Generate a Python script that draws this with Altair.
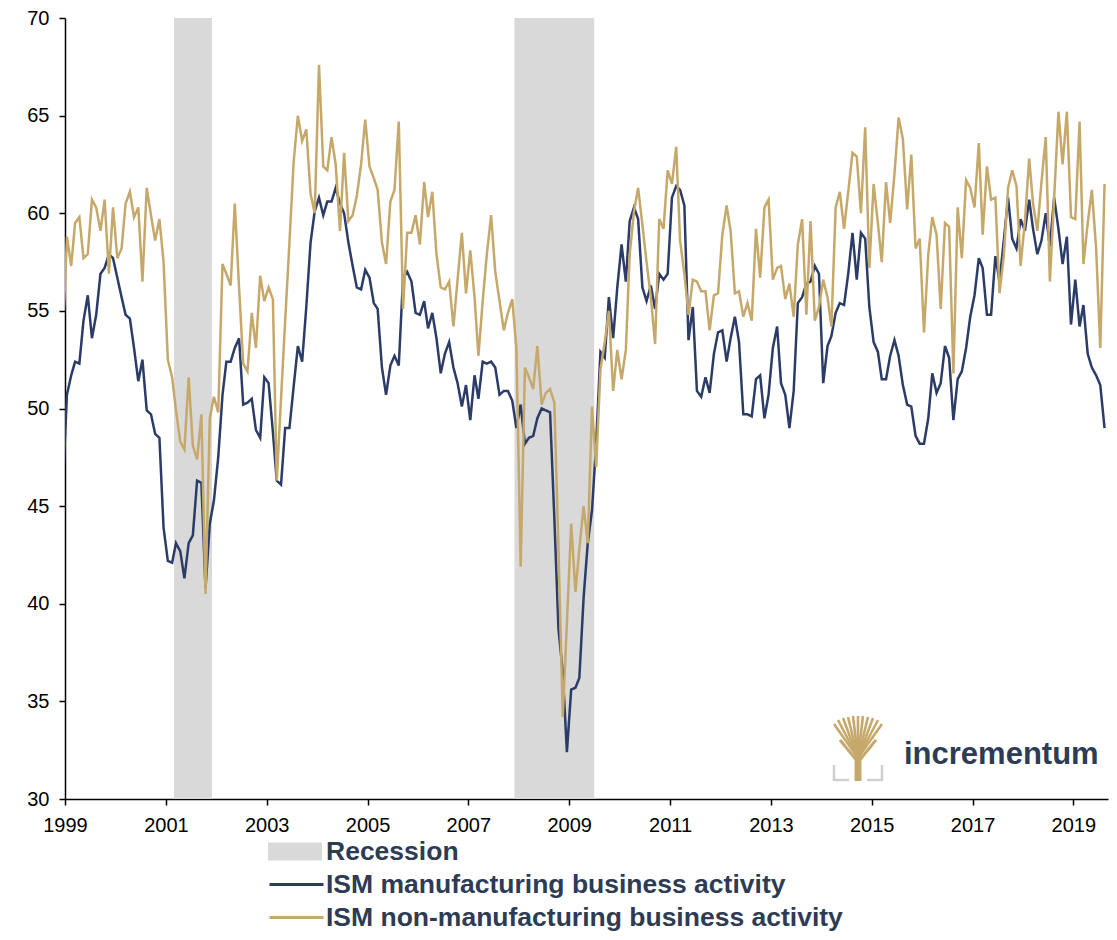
import altair as alt
import pandas as pd

# ---------------- data ----------------
SERIES = ["ISM manufacturing business activity",
          "ISM non-manufacturing business activity"]
FIRST_MONTH = "1998-12-01"

# monthly values, Dec 1998 ... Aug 2019
manufacturing = [
    45.8,
    50.7, 51.7, 52.4, 52.3, 54.5, 55.8, 53.6, 54.8, 56.9, 57.2, 57.9, 57.7,
    56.7, 55.7, 54.8, 54.6, 53.1, 51.4, 52.5, 49.9, 49.7, 48.7, 48.5, 43.9,
    42.2, 42.1, 43.1, 42.7, 41.3, 43.1, 43.5, 46.3, 46.2, 40.8, 44.1, 45.3,
    47.5, 50.7, 52.4, 52.4, 53.1, 53.6, 50.2, 50.3, 50.5, 48.9, 48.5, 51.6,
    51.3, 48.8, 46.3, 46.1, 49.0, 49.0, 51.1, 53.2, 52.4, 55.2, 58.5, 60.1,
    60.8, 59.9, 60.6, 60.6, 61.3, 60.5, 60.0, 58.5, 57.3, 56.2, 56.1, 57.1,
    56.7, 55.4, 55.1, 52.1, 50.7, 52.2, 52.7, 52.2, 56.7, 57.0, 56.5, 54.9,
    54.8, 55.5, 54.1, 54.9, 53.6, 51.8, 52.8, 53.4, 52.1, 51.3, 50.1, 51.2,
    49.4, 51.7, 50.5, 52.4, 52.3, 52.4, 52.1, 50.7, 50.9, 50.9, 50.4, 49.0,
    50.2, 48.2, 48.5, 48.6, 49.5, 50.0, 49.9, 49.8, 44.4, 38.7, 36.5, 32.4,
    35.6, 35.7, 36.2, 40.3, 43.1, 44.8, 48.2, 52.9, 52.6, 55.7, 53.6, 56.2,
    58.4, 56.5, 59.6, 60.3, 59.7, 56.2, 55.5, 56.3, 55.1, 56.9, 56.6, 56.9,
    60.8, 61.4, 61.2, 60.4, 53.5, 55.2, 50.9, 50.6, 51.6, 50.8, 52.8, 53.9,
    54.0, 52.4, 53.6, 54.7, 53.4, 49.7, 49.7, 49.6, 51.5, 51.7, 49.5, 50.7,
    53.1, 54.2, 51.3, 50.7, 49.0, 50.9, 55.4, 55.7, 56.4, 56.5, 57.3, 56.9,
    51.3, 53.2, 53.7, 54.9, 55.4, 55.3, 56.9, 59.0, 56.6, 59.0, 58.7, 55.2,
    53.4, 52.9, 51.5, 51.5, 52.7, 53.5, 52.7, 51.2, 50.2, 50.1, 48.6, 48.2,
    48.2, 49.5, 51.8, 50.8, 51.3, 53.2, 52.6, 49.4, 51.5, 51.9, 53.1, 54.7,
    55.8, 57.7, 57.2, 54.8, 54.8, 57.8, 56.5, 58.6, 60.8, 58.7, 58.2, 59.7,
    59.1, 60.7, 59.2, 57.9, 58.6, 60.0, 58.3, 60.8, 59.2, 57.4, 58.8, 54.3,
    56.6, 54.2, 55.3, 52.8, 52.1, 51.7, 51.2, 49.0,
]

non_manufacturing = [
    53.4,
    58.8, 57.3, 59.5, 59.8, 57.7, 57.9, 60.7, 60.3, 59.1, 60.7, 56.9, 60.3,
    57.7, 58.2, 60.5, 61.1, 59.8, 60.3, 56.5, 61.3, 59.9, 58.6, 59.7, 57.5,
    52.5, 51.6, 49.9, 48.3, 47.9, 51.6, 48.1, 47.4, 49.7, 40.5, 49.5, 50.6,
    49.8, 57.4, 56.9, 56.3, 60.5, 56.2, 52.3, 51.9, 54.9, 53.1, 56.8, 55.5,
    56.2, 55.6, 46.3, 50.5, 54.5, 58.5, 62.6, 65.0, 63.7, 64.3, 61.0, 60.0,
    67.6, 62.4, 62.2, 63.9, 62.5, 59.1, 63.1, 59.6, 59.9, 60.9, 62.5, 64.8,
    62.4, 61.8, 61.2, 58.5, 57.4, 60.6, 61.2, 64.7, 55.1, 59.0, 59.0, 59.9,
    58.4, 61.6, 59.8, 61.1, 57.9, 56.2, 56.1, 56.5, 54.2, 56.6, 59.0, 55.9,
    58.1, 55.7, 52.7, 55.5, 57.9, 59.9, 57.0, 55.5, 54.0, 54.9, 55.6, 53.1,
    41.9, 52.1, 51.6, 51.0, 53.2, 50.2, 50.8, 51.0, 50.3, 42.8, 34.2, 39.0,
    44.1, 40.6, 42.8, 45.0, 43.1, 50.1, 47.0, 52.0, 53.4, 55.0, 50.9, 53.0,
    51.5, 53.0, 57.9, 60.1, 61.3, 59.4, 57.5, 55.7, 53.3, 59.7, 59.2, 62.2,
    61.5, 63.4, 58.6, 56.9, 54.8, 56.6, 56.5, 56.0, 56.0, 54.0, 55.8, 55.9,
    58.9, 60.4, 59.1, 55.9, 56.0, 54.7, 55.4, 54.5, 59.2, 56.7, 60.3, 60.7,
    56.6, 57.2, 57.3, 55.6, 56.4, 54.7, 58.4, 59.7, 54.8, 59.6, 54.5, 55.2,
    56.6, 55.7, 54.2, 60.3, 61.1, 59.2, 61.1, 63.1, 62.9, 60.0, 64.4, 57.2,
    61.5, 59.5, 57.5, 61.6, 59.5, 62.0, 64.9, 63.8, 60.2, 63.0, 58.2, 58.7,
    53.9, 57.9, 59.8, 58.9, 55.1, 59.5, 59.3, 51.8, 60.3, 57.7, 61.7, 61.3,
    60.3, 63.6, 58.9, 62.4, 60.7, 60.8, 55.9, 57.8, 61.3, 62.2, 61.4, 57.3,
    59.6, 62.8, 60.5, 59.1, 61.6, 63.9, 56.5, 60.8, 65.2, 62.5, 65.2, 59.8,
    59.7, 64.7, 57.4, 59.5, 61.2, 58.2, 53.1, 61.5,
]

recession_start = ["2001-03-01", "2007-12-01"]
recession_end = ["2001-12-01", "2009-07-01"]
recession_label = "Recession"

x_tick_years = list(range(1999, 2020, 2))
y_ticks = [30, 35, 40, 45, 50, 55, 60, 65, 70]
x_domain = ["1999-01-01", "2019-09-09"]
y_domain = [30, 70]

# ---------------- styling ----------------
FONT = "Liberation Sans, Arial, sans-serif"
NAVY = "#2B3C69"
GOLD = "#C6A96A"
GREY = "#D9D9D9"
TEXT = "#2E3B55"
W, H = 1043, 781
OX, OY = 65, 18   # page position of the plot's top-left corner


def ms(s):
    return int(pd.Timestamp(s, tz="UTC").value // 10**6)


months = (pd.date_range(FIRST_MONTH, periods=len(manufacturing), freq="MS")
          + pd.Timedelta(days=14)).strftime("%Y-%m-%d").tolist()

df_m = pd.DataFrame({"date": months, "value": manufacturing, "series": SERIES[0]})
df_n = pd.DataFrame({"date": months, "value": non_manufacturing, "series": SERIES[1]})
df_r = pd.DataFrame({"start": recession_start, "end": recession_end,
                     "label": recession_label,
                     "lo": y_domain[0], "hi": y_domain[1]})

x_scale = alt.Scale(type="utc", domain=[ms(d) for d in x_domain], nice=False)
y_scale = alt.Scale(domain=y_domain, nice=False, zero=False)

axis_common = dict(labelFont=FONT, labelFontSize=20, labelColor="black",
                   tickColor="black", tickSize=6, tickWidth=1.5,
                   domainColor="black", domainWidth=1.5, labelPadding=10,
                   grid=False, title=None)
x_axis = alt.Axis(values=[ms(f"{y}-01-01") for y in x_tick_years],
                  format="%Y", formatType="utc", labelFlush=False,
                  labelOverlap=False, **axis_common)
y_axis = alt.Axis(values=y_ticks, labelOverlap=False, **axis_common)

legend_common = dict(orient="none", title=None, labelFont=FONT,
                     labelFontSize=26.5, labelFontWeight="bold",
                     labelColor=TEXT, labelLimit=900, padding=0,
                     rowPadding=0, clipHeight=33, symbolSize=2916)

rect = alt.Chart(df_r).mark_rect().encode(
    x=alt.X("start:T", scale=x_scale, axis=x_axis),
    x2="end:T",
    y=alt.Y("lo:Q", scale=y_scale, axis=y_axis),
    y2="hi:Q",
    fill=alt.Fill("label:N",
                  scale=alt.Scale(domain=[recession_label], range=[GREY]),
                  legend=alt.Legend(legendX=268 - OX, legendY=835 - OY,
                                    symbolType="M-1,-0.333H1V0.333H-1Z",
                                    symbolStrokeWidth=0, symbolOpacity=1,
                                    labelOffset=4, **legend_common)),
)

stroke_enc = alt.Stroke(
    "series:N",
    scale=alt.Scale(domain=SERIES, range=[NAVY, GOLD]),
    legend=alt.Legend(legendX=268 - OX, legendY=868 - OY, symbolType="stroke",
                      symbolStrokeWidth=3, labelOffset=1, **legend_common),
)


def series_line(df):
    return alt.Chart(df).mark_line(strokeWidth=2.5, clip=True).encode(
        x=alt.X("date:T", scale=x_scale, axis=x_axis),
        y=alt.Y("value:Q", scale=y_scale, axis=y_axis),
        stroke=stroke_enc,
    )


# ---------------- logo (decoration, pixel space relative to plot) ----------------
def seg(x1, y1, x2, y2, color, width):
    return alt.Chart(alt.Data(values=[{}])).mark_rule(
        color=color, strokeWidth=width, strokeCap="butt").encode(
        x=alt.value(x1 - OX), y=alt.value(y1 - OY),
        x2=alt.value(x2 - OX), y2=alt.value(y2 - OY))


logo = [seg(858, 781, 858, 748, GOLD, 7)]
for tx, ty in [(834, 724), (838, 720), (843, 718), (848, 717), (853, 716),
               (858, 716), (863, 716), (868, 717), (873, 718), (878, 720),
               (882, 724)]:
    logo.append(seg(858, 758, tx, ty, GOLD, 2.6))
for tx, ty in [(840, 740), (876, 740)]:
    logo.append(seg(858, 762, tx, ty, GOLD, 3))
BR = "#CFCFCF"
logo += [seg(834, 765, 834, 781, BR, 2.5), seg(834, 780, 849, 780, BR, 2.5),
         seg(882, 765, 882, 781, BR, 2.5), seg(867, 780, 882, 780, BR, 2.5)]

logo_text = alt.Chart(alt.Data(values=[{"t": "incrementum"}])).mark_text(
    font=FONT, fontSize=31, fontWeight="bold", color=TEXT,
    align="left", baseline="alphabetic").encode(
    x=alt.value(904 - OX), y=alt.value(764 - OY), text="t:N")

chart = alt.layer(rect, series_line(df_m), series_line(df_n), *logo, logo_text).properties(
    width=W, height=H,
    autosize=alt.AutoSizeParams(type="none"),
    padding={"left": 57, "top": 10, "right": 1, "bottom": 133},
).configure_view(stroke=None)

chart.save("out.html", embed_options={"renderer": "svg", "actions": False})
